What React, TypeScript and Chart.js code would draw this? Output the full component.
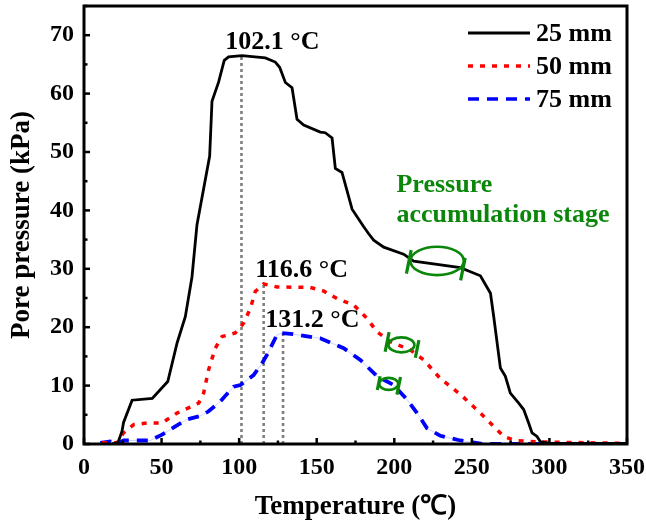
import { useEffect, useRef } from "react";
import { Chart, registerables } from "chart.js";

Chart.register(...registerables);

// ---------- data ----------
const seriesLabels = ["25 mm", "50 mm", "75 mm"];

const temps25 = [18, 22, 24.5, 25.5, 31, 44, 54, 60, 65.3, 69.6, 72.8, 81, 82.5, 86.8, 90.4, 93.2, 101.8, 116.9, 123.3, 126.1, 129.8, 134.1, 137.3, 141.6, 152.3, 155.5, 159.9, 162, 166.3, 172.8, 180.3, 183.5, 186.7, 193.2, 206, 212.5, 242.6, 249.1, 255.5, 262, 264.1, 268.4, 271.6, 274.8, 280.2, 283.4, 286.6, 288.8, 292, 294.2, 300, 350];
const pressure25 = [0, 0.3, 2.2, 3.7, 7.5, 7.8, 10.7, 17.3, 21.8, 28.6, 37.5, 49.3, 58.7, 62, 65.7, 66.3, 66.5, 66.1, 65.4, 64.5, 61.9, 61.0, 55.6, 54.6, 53.4, 53.3, 52.4, 47.2, 46.5, 40.2, 37.2, 36.0, 34.9, 33.7, 32.5, 31.3, 30.2, 29.5, 28.8, 25.8, 21.8, 13.0, 11.6, 8.7, 7.0, 5.9, 3.6, 1.9, 1.3, 0.4, 0.1, 0.1];

const temps50 = [11.6, 21.3, 25.5, 32, 40.6, 50.3, 60, 67.4, 73.9, 77.1, 80.3, 84.6, 89, 97.5, 102.9, 107.2, 110.4, 115.8, 124.4, 145.9, 154.4, 163.1, 173.8, 182.4, 188.9, 197.5, 210.4, 219, 229.7, 242.6, 255.5, 263, 270.5, 278, 294.2, 305, 350];
const pressure50 = [0.2, 0.2, 1.9, 3.3, 3.6, 3.6, 5.3, 6.2, 7.0, 8.7, 12.7, 16.4, 18.4, 19.0, 20.7, 23.2, 26.1, 27.4, 26.9, 26.8, 26.2, 24.9, 23.8, 21.5, 19.2, 17.5, 16.1, 14.4, 11.2, 8.5, 5.3, 3.3, 1.3, 0.6, 0.35, 0.3, 0.1];

const temps75 = [10.5, 17, 21.3, 25.5, 34.2, 42.7, 50.3, 58.9, 66.4, 75, 80.3, 87.9, 96.4, 100.8, 109.3, 114.7, 118, 124.4, 127.6, 135.1, 152.3, 167.4, 178.1, 188.9, 199.6, 208.2, 214.7, 221.1, 229.7, 242.6, 257.6, 274.8, 294];
const pressure75 = [0.2, 0.45, 0, 0.6, 0.6, 0.6, 1.6, 3.0, 4.2, 4.8, 5.6, 7.3, 9.8, 10.1, 11.8, 13.8, 15.3, 18.7, 19.0, 18.8, 18.1, 16.4, 14.4, 11.6, 10.1, 7.6, 5.3, 2.7, 1.4, 0.6, 0, 0, 0];

// peak markers
const peakTemps = [101.5, 115.8, 128.3];
const peakPressures = [66.4, 27.4, 19.0];
const peakLabels = ["102.1 °C", "116.6 °C", "131.2 °C"];
const peakLabelTemps = [91.1, 110.4, 116.9];
const peakLabelPressures = [67.7, 28.6, 20.1];

// pressure accumulation stage markers (centre on each curve)
const stageTemps = [227.6, 204.6, 196.4];
const stagePressures = [31.35, 16.97, 10.3];
const stageText = ["Pressure", "accumulation stage"];

const xMin = 0, xMax = 350, xStep = 50;
const yMin = 0, yMax = 75, yStep = 10;

// ---------- styles ----------
const FONT = "'Liberation Serif', 'Times New Roman', serif";
const GREEN = "#0a870a";
const colors = ["#000000", "#ff0000", "#0000ff"];
const dashes: number[][] = [[], [5, 7], [11, 8]];
const widths = [2.8, 3.5, 3.8];

const toPts = (xs: number[], ys: number[]) => xs.map((x, i) => ({ x, y: ys[i] }));

const decorPlugin = {
  id: "decor",
  beforeDatasetsDraw(chart: any) {
    const { ctx, scales } = chart;
    const xs = scales.x, ys = scales.y;
    ctx.save();
    ctx.strokeStyle = "#7f7f7f";
    ctx.lineWidth = 2.6;
    ctx.setLineDash([3, 3]);
    peakTemps.forEach((t, i) => {
      const px = xs.getPixelForValue(t);
      ctx.beginPath();
      ctx.moveTo(px, ys.getPixelForValue(0));
      ctx.lineTo(px, ys.getPixelForValue(peakPressures[i]));
      ctx.stroke();
    });
    ctx.restore();
  },
  afterDraw(chart: any) {
    const { ctx, scales, chartArea: a } = chart;
    const xs = scales.x, ys = scales.y;
    ctx.save();
    // ticks (inward)
    ctx.strokeStyle = "#000";
    ctx.lineWidth = 2.5;
    ctx.setLineDash([]);
    for (let v = xMin; v <= xMax; v += xStep / 2) {
      const px = xs.getPixelForValue(v);
      const len = v % xStep === 0 ? 6 : 3.5;
      ctx.beginPath();
      ctx.moveTo(px, a.bottom);
      ctx.lineTo(px, a.bottom - len);
      ctx.stroke();
    }
    for (let v = yMin; v <= yMax; v += yStep / 2) {
      const py = ys.getPixelForValue(v);
      const len = v % yStep === 0 ? 6 : 3.5;
      ctx.beginPath();
      ctx.moveTo(a.left, py);
      ctx.lineTo(a.left + len, py);
      ctx.stroke();
    }
    // frame
    ctx.lineWidth = 3;
    ctx.strokeRect(a.left, a.top, a.right - a.left, a.bottom - a.top);

    // peak labels
    ctx.fillStyle = "#000";
    ctx.font = `bold 26px ${FONT}`;
    ctx.textAlign = "left";
    ctx.textBaseline = "alphabetic";
    peakLabels.forEach((s, i) => {
      ctx.fillText(s, xs.getPixelForValue(peakLabelTemps[i]), ys.getPixelForValue(peakLabelPressures[i]));
    });

    // stage text
    ctx.fillStyle = GREEN;
    ctx.fillText(stageText[0], xs.getPixelForValue(201.4), ys.getPixelForValue(43.15));
    ctx.fillText(stageText[1], xs.getPixelForValue(201.4), ys.getPixelForValue(38.0));

    // stage markers: ellipse + two bars
    const shapes = [
      { rx: 26.7, ry: 14.2, bars: [[-28.3, 1, 12], [25.8, 8.2, 11.5]] },
      { rx: 13, ry: 7.5, bars: [[-14.3, -3, 10], [15.7, 4, 9]] },
      { rx: 9.5, ry: 6, bars: [[-10, -0.7, 7], [10, 2, 9]] },
    ];
    ctx.strokeStyle = GREEN;
    shapes.forEach((s, i) => {
      const cx = xs.getPixelForValue(stageTemps[i]);
      const cy = ys.getPixelForValue(stagePressures[i]);
      ctx.lineWidth = 2.6;
      ctx.beginPath();
      ctx.ellipse(cx, cy, s.rx, s.ry, 0, 0, Math.PI * 2);
      ctx.stroke();
      ctx.lineWidth = 3.2;
      s.bars.forEach(([dx, dy, h]) => {
        const t = 0.2;
        ctx.beginPath();
        ctx.moveTo(cx + dx - Math.sin(t) * h, cy + dy + Math.cos(t) * h);
        ctx.lineTo(cx + dx + Math.sin(t) * h, cy + dy - Math.cos(t) * h);
        ctx.stroke();
      });
    });

    // legend
    const rows = [33, 66, 99];
    seriesLabels.forEach((lab, i) => {
      ctx.strokeStyle = colors[i];
      ctx.lineWidth = i === 0 ? 2.8 : 3.5;
      ctx.setLineDash(dashes[i]);
      ctx.beginPath();
      ctx.moveTo(468, rows[i]);
      ctx.lineTo(530, rows[i]);
      ctx.stroke();
      ctx.setLineDash([]);
      ctx.fillStyle = "#000";
      ctx.font = `bold 26px ${FONT}`;
      ctx.textBaseline = "middle";
      ctx.fillText(lab, 536, rows[i] + 1);
    });
    ctx.restore();
  },
};

export default function App() {
  const ref = useRef<HTMLCanvasElement | null>(null);
  useEffect(() => {
    if (!ref.current) return;
    const tickFont = { family: FONT, size: 24, weight: "bold" as const };
    const titleFont = { family: FONT, size: 27, weight: "bold" as const };
    const noPad = (s: any) => { s.paddingTop = 0; s.paddingBottom = 0; s.paddingLeft = 0; s.paddingRight = 0; };
    const chart = new Chart(ref.current, {
      type: "line",
      data: {
        datasets: [
          { label: seriesLabels[0], data: toPts(temps25, pressure25), borderColor: colors[0], borderWidth: widths[0], borderDash: dashes[0], pointRadius: 0, tension: 0, fill: false },
          { label: seriesLabels[1], data: toPts(temps50, pressure50), borderColor: colors[1], borderWidth: widths[1], borderDash: dashes[1], pointRadius: 0, tension: 0, fill: false },
          { label: seriesLabels[2], data: toPts(temps75, pressure75), borderColor: colors[2], borderWidth: widths[2], borderDash: dashes[2], pointRadius: 0, tension: 0, fill: false },
          { label: "", data: toPts(temps75, pressure75), borderColor: "rgba(110,130,255,0.35)", borderWidth: 1, pointRadius: 0, tension: 0, fill: false },
        ],
      },
      options: {
        responsive: false,
        animation: false,
        layout: { padding: { top: 6, right: 19, left: 0, bottom: 0 } },
        plugins: { legend: { display: false }, tooltip: { enabled: false } },
        scales: {
          x: {
            type: "linear",
            min: xMin,
            max: xMax,
            grid: { display: false, drawTicks: false },
            border: { display: false },
            ticks: { stepSize: xStep, font: tickFont, color: "#000", padding: 9, maxRotation: 0 },
            title: { display: true, text: "Temperature (℃)", font: titleFont, color: "#000", padding: { top: 0, bottom: 5 } },
            afterFit: (s: any) => { s.height = 84; noPad(s); },
          },
          y: {
            min: yMin,
            max: yMax,
            grid: { display: false, drawTicks: false },
            border: { display: false },
            ticks: { stepSize: yStep, includeBounds: false, font: tickFont, color: "#000", padding: 10 },
            title: { display: true, text: "Pore pressure (kPa)", font: titleFont, color: "#000", padding: { top: 6, bottom: 0 } },
            afterFit: (s: any) => { s.width = 84; noPad(s); },
          },
        },
      },
      plugins: [decorPlugin],
    });
    return () => chart.destroy();
  }, []);
  return (
    <div style={{ position: "fixed", left: 0, top: 0, width: 646, height: 528, background: "#fff" }}>
      <canvas ref={ref} width={646} height={528} style={{ display: "block" }} />
    </div>
  );
}
